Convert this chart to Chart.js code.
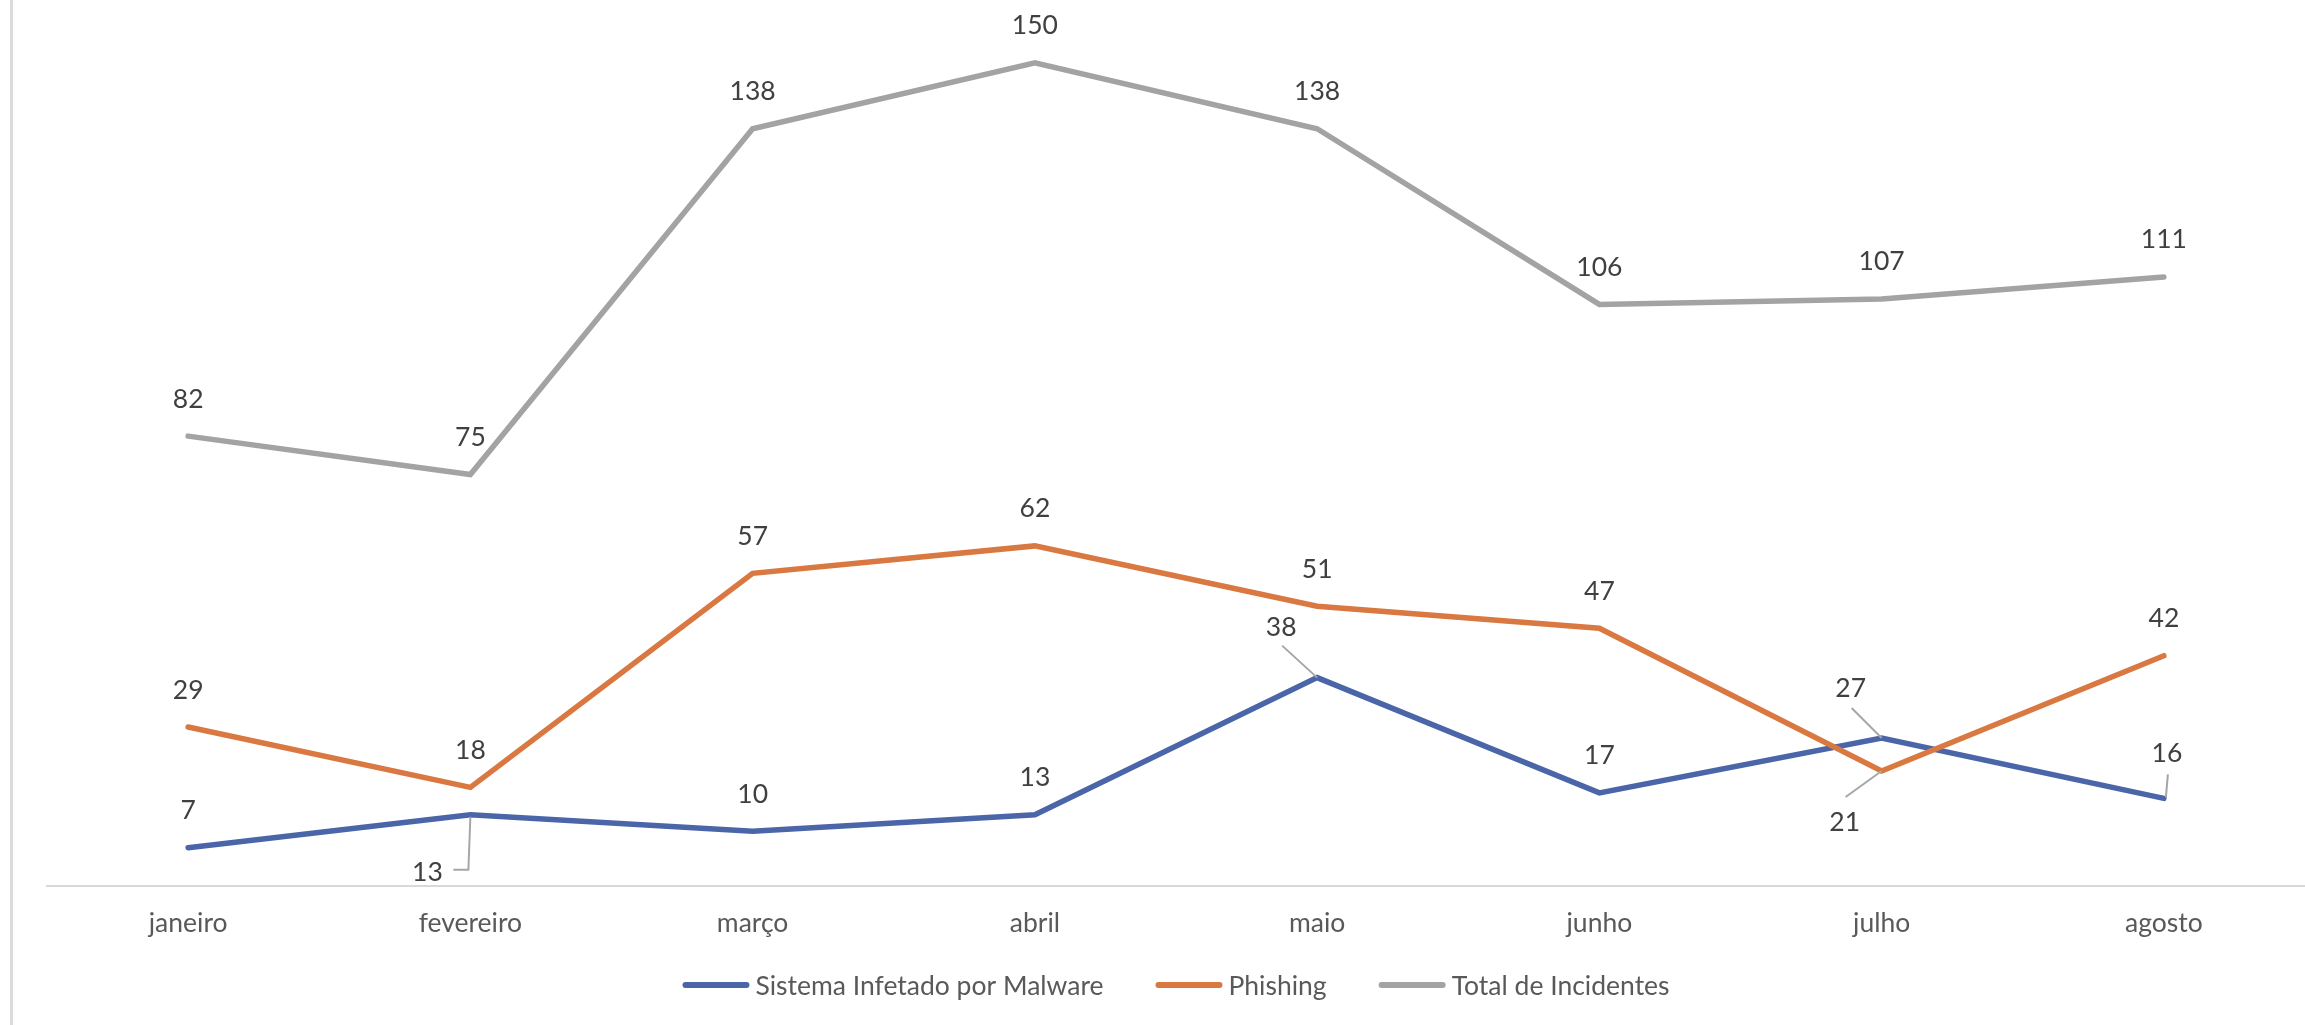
<!DOCTYPE html>
<html lang="pt">
<head>
<meta charset="utf-8">
<title>Incidentes</title>
<script src="https://cdn.jsdelivr.net/npm/chart.js@4.4.1/dist/chart.umd.min.js"></script>
<style>
  html, body { margin: 0; padding: 0; background: #fff; }
  #wrap { width: 2305px; height: 1025px; }
</style>
</head>
<body>
<div id="wrap"><canvas id="chart" width="2305" height="1025"></canvas></div>
<script>
const months = ['janeiro', 'fevereiro', 'março', 'abril', 'maio', 'junho', 'julho', 'agosto'];
const malware = [7, 13, 10, 13, 38, 17, 27, 16];
const phishing = [29, 18, 57, 62, 51, 47, 21, 42];
const totalIncidents = [82, 75, 138, 150, 138, 106, 107, 111];
const yMin = 0;
const yMax = 160;

const FONT = 'Lato, "Open Sans", sans-serif';
const FONT_SIZE = 26.5;

// label placement: default is above the point; a few are moved like in the original
// [dx, dy] of label centre, plus optional leader polyline (relative to the point)
const labelMoves = {
  '0:1': { at: [-43, 58], leader: [[0, 2], [-2, 55], [-17, 55]] },
  '0:4': { at: [-36, -50], leader: [[-35, -32], [0, 0]] },
  '0:6': { at: [-31, -50], leader: [[-30, -30], [0, 0]] },
  '0:7': { at: [3, -45], leader: [[4, -24], [2, -1]] },
  '1:6': { at: [-37, 52], leader: [[-36, 26], [0, 0]] },
};

const dataLabels = {
  id: 'dataLabels',
  afterDatasetsDraw(chart) {
    const { ctx } = chart;
    ctx.save();
    ctx.font = FONT_SIZE + 'px ' + FONT;
    ctx.textAlign = 'center';
    ctx.textBaseline = 'middle';
    chart.data.datasets.forEach((ds, di) => {
      const meta = chart.getDatasetMeta(di);
      meta.data.forEach((pt, i) => {
        const mv = labelMoves[di + ':' + i];
        const at = mv ? mv.at : [0, -37];
        if (mv && mv.leader) {
          ctx.strokeStyle = '#a6a6a6';
          ctx.lineWidth = 2;
          ctx.beginPath();
          mv.leader.forEach(([lx, ly], k) => {
            if (k === 0) ctx.moveTo(pt.x + lx, pt.y + ly);
            else ctx.lineTo(pt.x + lx, pt.y + ly);
          });
          ctx.stroke();
        }
        ctx.fillStyle = '#404040';
        ctx.fillText(String(ds.data[i]), pt.x + at[0], pt.y + at[1]);
      });
    });
    ctx.restore();
  },
};

const frameAndLegend = {
  id: 'frameAndLegend',
  beforeDraw(chart) {
    const { ctx } = chart;
    ctx.save();
    ctx.strokeStyle = '#dcdcdc';
    ctx.lineWidth = 3;
    ctx.beginPath();
    ctx.moveTo(11.5, 0);
    ctx.lineTo(11.5, chart.height);
    ctx.stroke();
    ctx.restore();
  },
  afterDraw(chart) {
    const { ctx, chartArea } = chart;
    const lineW = 67, gapText = 6, gapItem = 52, y = 985;
    ctx.save();
    ctx.font = FONT_SIZE + 'px ' + FONT;
    ctx.textBaseline = 'middle';
    ctx.textAlign = 'left';
    const items = chart.data.datasets
      .map((ds) => ({ label: ds.label, color: ds.borderColor, w: ctx.measureText(ds.label).width }));
    const total = items.reduce((s, it) => s + lineW + gapText + it.w, 0) + gapItem * (items.length - 1);
    let x = (chartArea.left + chartArea.right) / 2 - total / 2;
    items.forEach((it) => {
      ctx.strokeStyle = it.color;
      ctx.lineWidth = 6;
      ctx.lineCap = 'round';
      ctx.beginPath();
      ctx.moveTo(x + 3, y);
      ctx.lineTo(x + lineW - 3, y);
      ctx.stroke();
      ctx.fillStyle = '#595959';
      ctx.fillText(it.label, x + lineW + gapText, y + 1);
      x += lineW + gapText + it.w + gapItem;
    });
    ctx.restore();
  },
};

new Chart(document.getElementById('chart'), {
  type: 'line',
  data: {
    labels: months,
    datasets: [
      {
        label: 'Sistema Infetado por Malware',
        data: malware,
        borderColor: '#4a65a8',
        order: 2,
      },
      {
        label: 'Phishing',
        data: phishing,
        borderColor: '#d97840',
        order: 1,
      },
      {
        label: 'Total de Incidentes',
        data: totalIncidents,
        borderColor: '#a3a3a3',
        order: 0,
      },
    ],
  },
  options: {
    responsive: false,
    devicePixelRatio: 1,
    animation: false,
    layout: { padding: { left: 47, right: 0, top: 8, bottom: 65 } },
    elements: {
      line: { borderWidth: 5.5, tension: 0, borderCapStyle: 'round', fill: false },
      point: { radius: 0, hoverRadius: 0 },
    },
    plugins: {
      legend: { display: false },
      tooltip: { enabled: false },
    },
    scales: {
      x: {
        offset: true,
        grid: { display: false, drawTicks: false },
        border: { display: true, color: '#d9d9d9', width: 2 },
        ticks: { color: '#595959', font: { family: FONT, size: FONT_SIZE }, padding: 21, maxRotation: 0 },
      },
      y: {
        display: false,
        min: yMin,
        max: yMax,
      },
    },
  },
  plugins: [frameAndLegend, dataLabels],
});
</script>
</body>
</html>
